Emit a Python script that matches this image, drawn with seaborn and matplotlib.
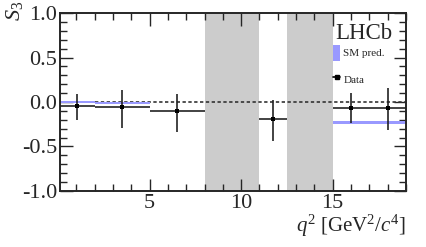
#!/usr/bin/env python3
import matplotlib

matplotlib.use("Agg")
import matplotlib.pyplot as plt
import numpy as np
import pandas as pd
import seaborn as sns
from matplotlib.patches import Patch
from matplotlib.lines import Line2D
from matplotlib.ticker import MultipleLocator

# measured bins
bin_lo = [0.1, 2.0, 5.0, 11.0, 15.0, 17.0]
bin_hi = [2.0, 5.0, 8.0, 12.5, 17.0, 19.0]
s3_val = [-0.05, -0.06, -0.10, -0.19, -0.07, -0.07]
err_up = [0.14, 0.19, 0.19, 0.21, 0.17, 0.23]
err_dn = [0.15, 0.23, 0.24, 0.25, 0.17, 0.25]

# SM prediction bands
sm_lo = [0.1, 2.0, 15.0]
sm_hi = [2.0, 5.0, 19.0]
sm_val = [0.0, -0.015, -0.23]
sm_err = [0.01, 0.01, 0.018]

# vetoed regions
veto_lo = [8.0, 12.5]
veto_hi = [11.0, 15.0]

sns.set_style("ticks")
plt.rcParams["font.family"] = ["Liberation Serif", "DejaVu Serif"]
plt.rcParams["mathtext.fontset"] = "custom"
plt.rcParams["mathtext.rm"] = "Liberation Serif"
plt.rcParams["mathtext.it"] = "Liberation Serif:italic"
plt.rcParams["axes.unicode_minus"] = False

df = pd.DataFrame({"lo": bin_lo, "hi": bin_hi, "s3": s3_val, "up": err_up, "dn": err_dn})
df["q2"] = (df["lo"] + df["hi"]) / 2

fig = plt.figure(figsize=(4.27, 2.47), dpi=100)
ax = fig.add_axes([0.1405, 0.227, 0.81, 0.72])

for lo, hi in zip(veto_lo, veto_hi):
    ax.axvspan(lo, hi, color="#cccccc", lw=0, zorder=0)

ax.axhline(0, color="#333333", ls=(0, (2, 1.5)), lw=1.2, zorder=1)

for lo, hi, v, e in zip(sm_lo, sm_hi, sm_val, sm_err):
    ax.fill_between([lo, hi], v - e, v + e, color="#9999ff", lw=0, zorder=2)

ax.errorbar(df["q2"], df["s3"],
            xerr=[df["q2"] - df["lo"], df["hi"] - df["q2"]],
            yerr=[df["dn"], df["up"]],
            fmt="none", ecolor="#222222", elinewidth=1.2, capsize=0, zorder=3)
sns.scatterplot(data=df, x="q2", y="s3", marker="s", s=9, color="black",
                edgecolor="black", linewidth=0, ax=ax, zorder=4, legend=False)

ax.set_xlim(0.1, 19)
ax.set_ylim(-1, 1)
ax.xaxis.set_major_locator(MultipleLocator(5))
ax.xaxis.set_minor_locator(MultipleLocator(1))
ax.yaxis.set_major_locator(MultipleLocator(0.5))
ax.yaxis.set_minor_locator(MultipleLocator(0.1))
ax.set_yticks([-1, -0.5, 0, 0.5, 1])
ax.set_yticklabels(["-1.0", "-0.5", "0.0", "0.5", "1.0"])
ax.tick_params(which="both", direction="in", top=True, right=True, labelsize=16, pad=2)
ax.tick_params(which="major", length=9, width=1)
ax.tick_params(which="minor", length=5, width=1)
for sp in ax.spines.values():
    sp.set_linewidth(1.4)

ax.set_xlabel(r"$q^2$ [GeV$^2$/$c^4$]", fontsize=15, loc="right", labelpad=0)
ax.set_ylabel("")
fig.text(0.035, 0.995, r"$S_3$", rotation=90, ha="center", va="top", fontsize=16)

ax.text(0.96, 0.945, "LHCb", transform=ax.transAxes, ha="right", va="top", fontsize=16.5)

handles = [Patch(facecolor="#9999ff", edgecolor="none"),
           Line2D([], [], color="black", marker="s", markersize=3, lw=1.2)]
ax.legend(handles, ["SM pred.", "Data"], loc="upper right", bbox_to_anchor=(0.962, 0.865),
          frameon=False, fontsize=8, handlelength=0.6, handleheight=1.8,
          handletextpad=0.3, labelspacing=1.0, borderpad=0.2)

fig.savefig("out.png", dpi=100)
